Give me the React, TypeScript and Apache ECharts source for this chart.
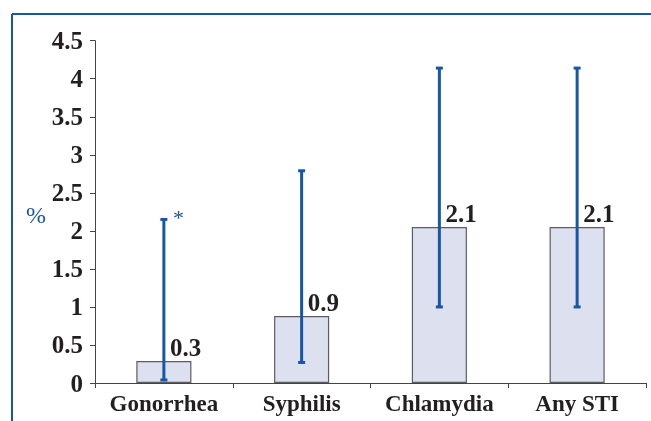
import React, { useEffect, useRef } from "react";
import * as echarts from "echarts";

const categories = ["Gonorrhea", "Syphilis", "Chlamydia", "Any STI"];
const values = [0.29, 0.88, 2.05, 2.05];
const valueLabels = ["0.3", "0.9", "2.1", "2.1"];
const lower = [0.04, 0.27, 1.0, 1.0];
const upper = [2.15, 2.79, 4.14, 4.14];
const marks = ["*", "", "", ""];
const yMin = 0;
const yMax = 4.5;
const yInterval = 0.5;

const BLUE = "#1757a8";
const TEXT = "#231f20";
const FONT = "Liberation Serif";

export default function App() {
  const ref = useRef<HTMLDivElement>(null);
  useEffect(() => {
    if (!ref.current) return;
    const chart = echarts.init(ref.current, null, { renderer: "svg" });
    chart.setOption({
      animation: false,
      grid: { left: 95, right: 5, top: 40.7, bottom: 38, containLabel: false },
      graphic: [
        { type: "line", shape: { x1: 12, y1: 14, x2: 651, y2: 14 }, style: { stroke: BLUE, lineWidth: 2 } },
        { type: "line", shape: { x1: 12, y1: 14, x2: 12, y2: 421 }, style: { stroke: BLUE, lineWidth: 2 } },
        {
          type: "text",
          x: 36,
          y: 215,
          style: { text: "%", fill: BLUE, font: `24px "${FONT}"`, textAlign: "center", textVerticalAlign: "middle" },
        },
      ],
      xAxis: {
        type: "category",
        data: categories,
        boundaryGap: true,
        axisLine: { lineStyle: { color: "#444", width: 1 } },
        axisTick: { show: true, length: 5, interval: 0, alignWithLabel: false, lineStyle: { color: "#444" } },
        axisLabel: { interval: 0, color: TEXT, fontSize: 23, fontWeight: "bold", fontFamily: FONT, margin: 9 },
      },
      yAxis: {
        type: "value",
        min: yMin,
        max: yMax,
        interval: yInterval,
        splitLine: { show: false },
        axisLine: { show: true, lineStyle: { color: "#444", width: 1 } },
        axisTick: { show: true, length: 5, lineStyle: { color: "#444" } },
        axisLabel: { color: TEXT, fontSize: 25, fontWeight: "bold", fontFamily: FONT, margin: 12 },
      },
      series: [
        {
          type: "bar",
          data: values,
          barWidth: "40%",
          itemStyle: { color: "#dde0ef", borderColor: "#5e5e5e", borderWidth: 1.2 },
          z: 2,
        },
        {
          type: "custom",
          z: 3,
          data: categories.map((_, i) => [i, lower[i], upper[i], values[i]]),
          renderItem: (params: any, api: any) => {
            const i = api.value(0);
            const lo = api.coord([i, api.value(1)]);
            const hi = api.coord([i, api.value(2)]);
            const top = api.coord([i, api.value(3)]);
            const x = hi[0];
            const cw = 3.5;
            const children: any[] = [
              { type: "line", shape: { x1: x, y1: lo[1], x2: x, y2: hi[1] }, style: { stroke: BLUE, lineWidth: 3 } },
              { type: "line", shape: { x1: x - cw, y1: hi[1], x2: x + cw, y2: hi[1] }, style: { stroke: BLUE, lineWidth: 3 } },
              { type: "line", shape: { x1: x - cw, y1: lo[1], x2: x + cw, y2: lo[1] }, style: { stroke: BLUE, lineWidth: 3 } },
              {
                type: "text",
                x: x + 6,
                y: top[1] - 1,
                style: {
                  text: valueLabels[i],
                  fill: TEXT,
                  font: `bold 25px "${FONT}"`,
                  textAlign: "left",
                  textVerticalAlign: "bottom",
                },
              },
            ];
            if (marks[i]) {
              children.push({
                type: "text",
                x: x + 9,
                y: hi[1] - 2,
                style: {
                  text: marks[i],
                  fill: BLUE,
                  font: `22px "${FONT}"`,
                  textAlign: "left",
                  textVerticalAlign: "middle",
                },
              });
            }
            return { type: "group", children };
          },
        },
      ],
    });
    return () => chart.dispose();
  }, []);
  return <div ref={ref} style={{ position: "fixed", left: 0, top: 0, width: 651, height: 421 }} />;
}
